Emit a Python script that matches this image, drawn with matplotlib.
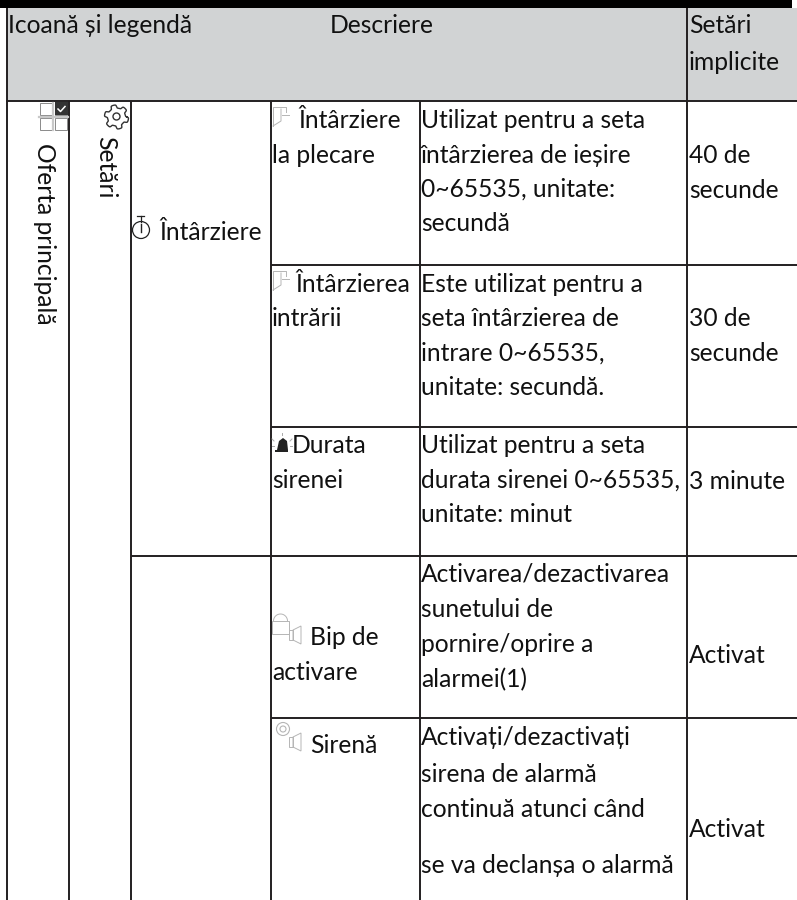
import numpy as np
import matplotlib
matplotlib.use("Agg")
import matplotlib.pyplot as plt
from matplotlib.patches import Rectangle, Circle, Polygon

plt.rcParams['font.family'] = ['Lato', 'DejaVu Sans']

# texte din tabel
header_left = "Icoană și legendă"
header_mid = "Descriere"
header_right = ["Setări", "implicite"]
menu_main = "Oferta principală"
menu_settings = "Setări"
group_delay = "Întârziere"
names = [["Întârziere", "la plecare"], ["Întârzierea", "intrării"], ["Durata", "sirenei"],
         ["Bip de", "activare"], ["Sirenă"]]
descriptions = [
    ["Utilizat pentru a seta", "întârzierea de ieșire", "0~65535, unitate:", "secundă"],
    ["Este utilizat pentru a", "seta întârzierea de", "intrare 0~65535,", "unitate: secundă."],
    ["Utilizat pentru a seta", "durata sirenei 0~65535,", "unitate: minut"],
    ["Activarea/dezactivarea", "sunetului de", "pornire/oprire a", "alarmei(1)"],
    ["Activați/dezactivați", "sirena de alarmă", "continuă atunci când", "se va declanșa o alarmă"],
]
defaults = [["40 de", "secunde"], ["30 de", "secunde"], ["3 minute"], ["Activat"], ["Activat"]]

# pozitii (pixeli)
name_x = [298, 295, 292, 310, 310]
name_y = [[128, 163], [292, 326], [453, 488], [645, 680], [753]]
desc_y = [[128, 163, 197, 231], [292, 326, 361, 395], [453, 488, 522], [581, 617, 652, 687],
          [745, 782, 817, 873]]
default_y = [[163, 198], [326, 361], [489], [663], [837]]

FS = 17.7
INK = "#111111"
LINE = "#231f20"

fig = plt.figure(figsize=(7.97, 9.0), dpi=100)
ax = fig.add_axes([0, 0, 1, 1])
ax.set_xlim(0, 797)
ax.set_ylim(900, 0)
ax.axis("off")

# antet
ax.add_patch(Rectangle((7, 8), 790, 92, fc="#d1d3d4", ec="none", zorder=0))
ax.add_patch(Rectangle((0, 0), 792, 8, fc="black", ec="none", zorder=3))


def hline(y, x0, x1=797):
    ax.plot([x0, x1], [y, y], color=LINE, lw=1.4, solid_capstyle="butt", zorder=2)


def vline(x, y0, y1=900):
    ax.plot([x, x], [y0, y1], color=LINE, lw=1.4, solid_capstyle="butt", zorder=2)


vline(7, 8)
vline(687, 8)
hline(101, 6)
vline(69, 101)
vline(131, 101)
vline(271, 101)
vline(420, 101)
hline(265, 271)
hline(427, 271)
hline(556, 131)
hline(718, 271)


def put(x, y, s, **kw):
    ax.text(x, y, s, fontsize=FS, color=INK, va="baseline", ha="left", zorder=4, **kw)


put(8, 33, header_left)
put(330, 33, header_mid)
put(689, 33, header_right[0])
put(689, 70, header_right[1])
put(159, 240, group_delay)

ax.text(44, 143, menu_main, rotation=270, fontsize=FS, color=INK, ha="center", va="top", zorder=4)
ax.text(106, 136, menu_settings, rotation=270, fontsize=FS, color=INK, ha="center", va="top", zorder=4)

for i in range(len(names)):
    put(name_x[i], name_y[i][0], names[i][0])
    for s, y in zip(names[i][1:], name_y[i][1:]):
        put(272, y, s)
    for s, y in zip(descriptions[i], desc_y[i]):
        put(421, y, s)
    for s, y in zip(defaults[i], default_y[i]):
        put(689, y, s)

# pictograme
GREY = "#b5b5b5"

# grila cu bifa
for gx, gy in [(40, 103), (55, 103), (40, 118), (55, 118)]:
    ax.add_patch(Rectangle((gx, gy), 12, 12, fc="white", ec="#8a8a8a", lw=0.7, zorder=3))
ax.add_patch(Rectangle((55, 102), 13, 13, fc="#333333", ec="none", zorder=3))
ax.plot([58, 60.5, 65], [109, 111.5, 106.5], color="white", lw=1.1, zorder=4)
ax.plot([39, 68], [116.5, 116.5], color="#c8c8c8", lw=1.6, zorder=3)
ax.plot([53.5, 53.5], [103, 130], color="#c8c8c8", lw=1.6, zorder=3)

# rotita
t = np.linspace(0, 2 * np.pi, 200)
r = 10.5 + 1.6 * np.tanh(3 * np.sin(6 * t))
ax.plot(116.5 + r * np.cos(t), 117 + r * np.sin(t), color="#333333", lw=1.0, zorder=4)
ax.add_patch(Circle((116.5, 116.5), 3.5, fc="none", ec="#333333", lw=1.0, zorder=4))

# cronometru
ax.add_patch(Circle((141, 230), 8.5, fc="white", ec="#222222", lw=0.9, zorder=4))
ax.plot([137.5, 144.5], [215.5, 215.5], color="#222222", lw=0.9, zorder=4)
ax.plot([141, 141], [216, 221.5], color="#222222", lw=0.9, zorder=4)
ax.plot([141, 141], [224, 232], color="#222222", lw=1.0, zorder=4)


def door(x, y):
    ax.plot([x, x + 8, x + 8], [y + 19, y + 14, y + 2], color=GREY, lw=0.7, zorder=4)
    ax.plot([x, x, x + 13, x + 13], [y + 19, y, y, y + 5], color=GREY, lw=0.7, zorder=4)
    ax.plot([x + 9, x + 16], [y + 8, y + 8], color=GREY, lw=0.7, zorder=4)


door(273, 107)
door(273, 271)

# girofar
ax.add_patch(Polygon([[277, 450], [279, 441], [283, 438], [287, 441], [288, 450]], fc="#222222", ec="none", zorder=4))
ax.add_patch(Rectangle((275, 450), 13, 2, fc="#222222", ec="none", zorder=4))
for (a, b, c, d) in [(282, 435, 282, 433), (274, 441, 272, 439), (290, 441, 292, 439), (272, 446, 274, 446), (290, 446, 292, 446)]:
    ax.plot([a, c], [b, d], color="#aaaaaa", lw=0.7, zorder=4)


def speaker(x, y):
    ax.add_patch(Rectangle((x, y), 4, 10, fc="none", ec=GREY, lw=0.7, zorder=4))
    ax.add_patch(Polygon([[x + 4, y], [x + 12, y - 4], [x + 12, y + 14], [x + 4, y + 10]], fc="none", ec=GREY, lw=0.7, zorder=4))


# lacat + difuzor
ax.add_patch(Rectangle((272, 621), 17, 13, fc="none", ec=GREY, lw=0.7, zorder=4))
t2 = np.linspace(np.pi, 2 * np.pi, 30)
ax.plot(280.5 + 7 * np.cos(t2), 621 + 7 * np.sin(t2), color=GREY, lw=0.7, zorder=4)
speaker(289, 630)

# difuzor cu semnal
ax.add_patch(Circle((283, 729), 6.5, fc="none", ec=GREY, lw=0.8, zorder=4))
ax.add_patch(Circle((283, 729), 3, fc="none", ec=GREY, lw=0.8, zorder=4))
speaker(289, 737)

fig.savefig("out.png", dpi=100)
